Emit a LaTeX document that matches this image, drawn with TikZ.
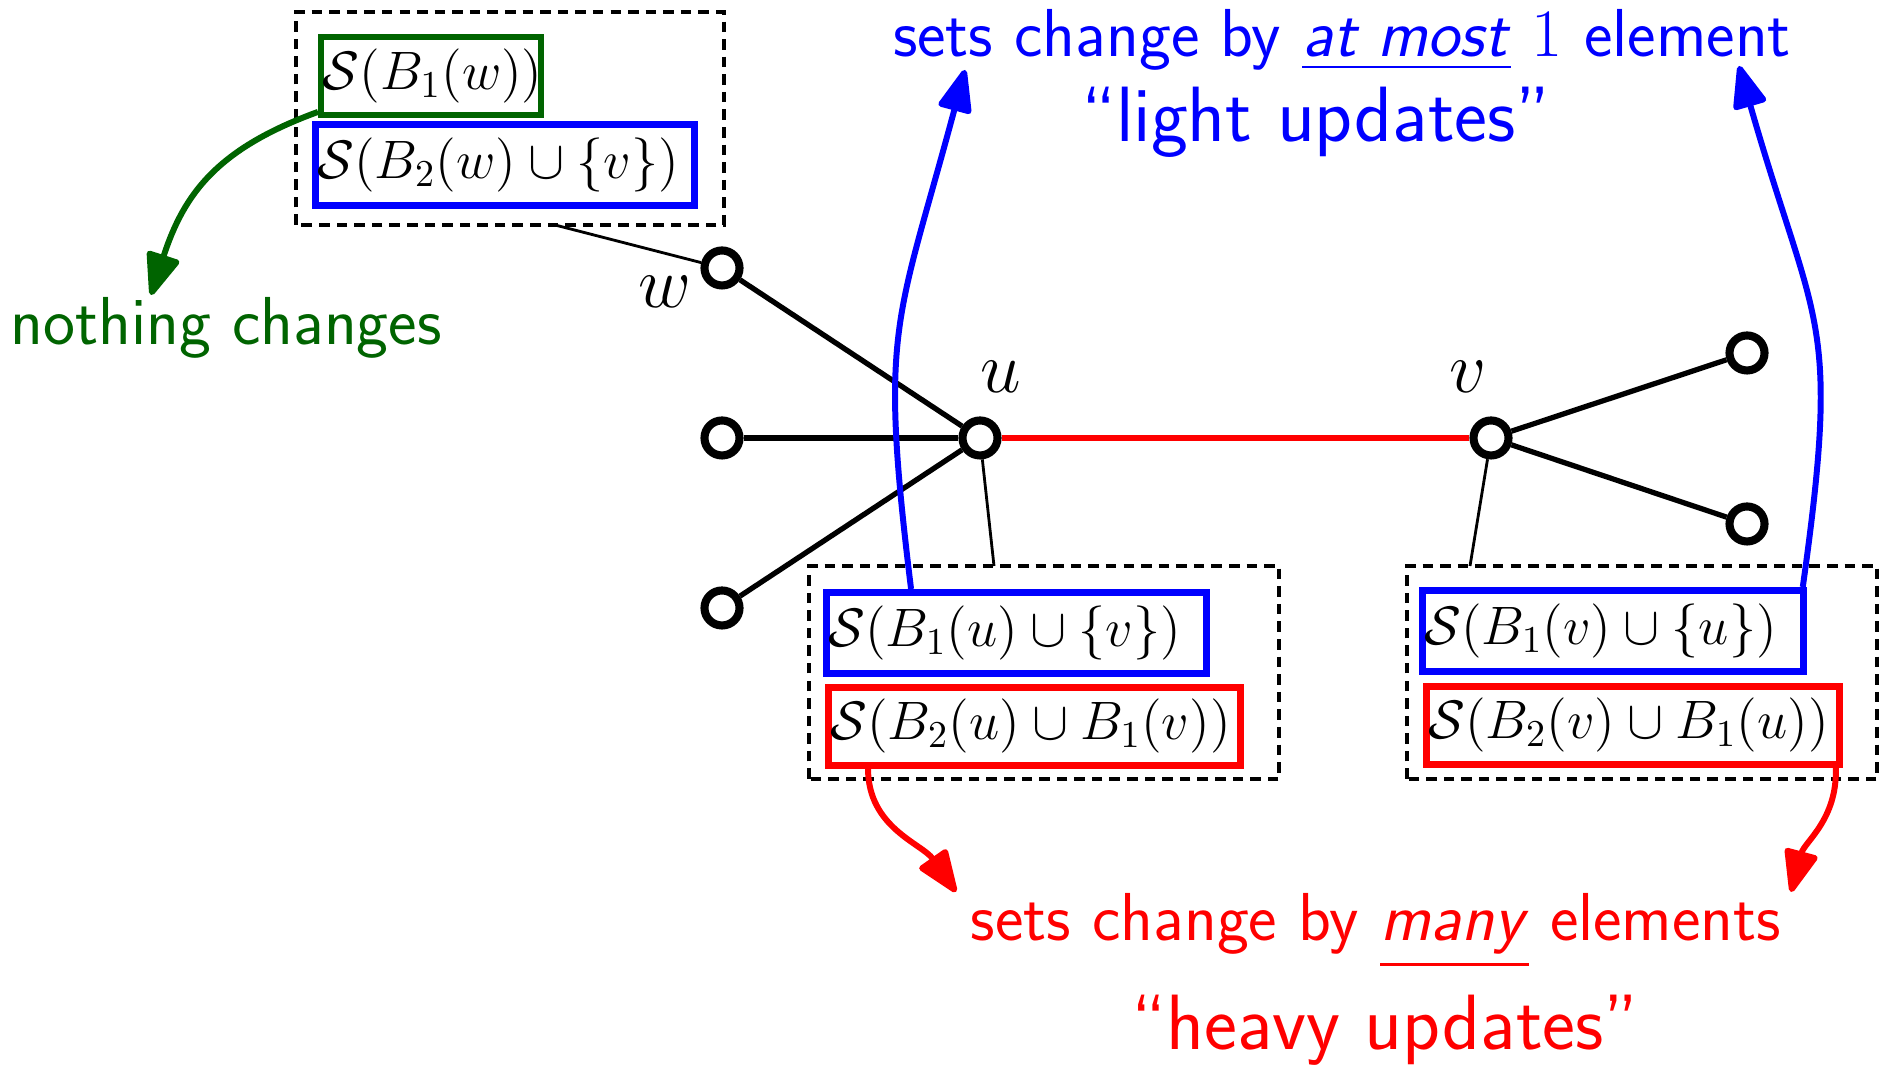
\RequirePackage{fix-cm}
\documentclass[tikz,border=0pt]{standalone}
\usepackage{amsmath,amssymb}
\usetikzlibrary{arrows.meta}
\definecolor{darkgreen}{RGB}{0,100,0}
\tikzset{
  vert/.style={circle, draw, fill=white, line width=2.3pt, inner sep=0pt, minimum size=0.35cm},
  graphedge/.style={line width=1.5pt},
  link/.style={line width=0.8pt},
  setgroup/.style={draw, dash pattern=on 3pt off 2pt, line width=1pt},
  setbox/.style={draw, fill=white, line width=2pt, anchor=north west, inner xsep=0.5pt,
    align=left, text width=#1, font=\fontsize{15.4}{18}\selectfont},
  bluebox/.style={setbox=#1, draw=blue, minimum height=0.81cm},
  redbox/.style={setbox=#1, draw=red, minimum height=0.76cm},
  greenbox/.style={setbox=#1, draw=darkgreen, line width=1.8pt, minimum height=0.75cm},
  vlabel/.style={font=\fontsize{20.7}{24}\selectfont},
  remark/.style={font=\sffamily\fontsize{19.3}{23}\selectfont, anchor=base},
  bigremark/.style={font=\sffamily\fontsize{22.3}{27}\selectfont, anchor=base},
  arrow/.style={-{Triangle[length=13.5pt,width=10pt,round]}, line width=1.7pt},
}

\begin{document}
\begin{tikzpicture}[x=0.01cm,y=0.01cm]
  \useasboundingbox (0,0) rectangle (1885,1065);

  % dashed groups
  \draw[setgroup] (296,840) rectangle (724,1053);
  \draw[setgroup] (809,286) rectangle (1279,499);
  \draw[setgroup] (1407,286) rectangle (1877,499);

  % graph
  \node[vert] (u) at (980,627) {};
  \node[vert] (v) at (1491,627) {};
  \node[vert] (w) at (722,797) {};
  \foreach \n/\y in {la/627,lb/457}{
    \node[vert] (\n) at (722,\y) {};
  }
  \foreach \n/\y in {ra/712,rb/541}{
    \node[vert] (\n) at (1747,\y) {};
  }
  \foreach \n in {w,la,lb}{
    \draw[graphedge] (\n) -- (u);
  }
  \foreach \n in {ra,rb}{
    \draw[graphedge] (v) -- (\n);
  }
  \draw[graphedge, red] (u) -- (v);

  \node[vlabel] (wlab) at (665,773) {$w$};
  \node[vlabel] (ulab) at (1001,688) {$u$};
  \node[vlabel] (vlab) at (1468,688) {$v$};

  % links to the groups
  \coordinate (wlink) at (555,840);
  \coordinate (ulink) at (994,499);
  \coordinate (vlink) at (1470,499);
  \draw[link] (wlink) -- (w);
  \draw[link] (u) -- (ulink);
  \draw[link] (v) -- (vlink);

  % sets
  \node[greenbox=2.16cm] (gw) at (318,1031) {$\mathcal{S}(B_1(w))$};
  \node[bluebox=3.75cm] (bw) at (312,944) {$\mathcal{S}(B_2(w)\cup\{v\})$};
  \node[bluebox=3.76cm] (bu) at (823,476) {$\mathcal{S}(B_1(u)\cup\{v\})$};
  \node[redbox=4.08cm] (ru) at (825,381) {$\mathcal{S}(B_2(u)\cup B_1(v))$};
  \node[bluebox=3.77cm] (bv) at (1419,478) {$\mathcal{S}(B_1(v)\cup\{u\})$};
  \node[redbox=4.09cm] (rv) at (1423,382) {$\mathcal{S}(B_2(v)\cup B_1(u))$};

  % remarks
  \node[remark, text=darkgreen, anchor=base west] (nothing) at (-2,720) {nothing changes};
  \node[remark, text=blue] (light) at (1342,1008) {sets change by \underline{\textsl{at most}} $1$ element};
  \node[bigremark, text=blue] (lightq) at (1316,923) {``light updates''};
  \node[remark, text=red] (heavy) at (1376,124) {sets change by \underline{\textsl{many}} elements};
  \node[bigremark, text=red] (heavyq) at (1385,15) {``heavy updates''};

  % arrows
  \coordinate (gtip) at (151,770);
  \coordinate (butip) at (965,995);
  \coordinate (bvtip) at (1739,999);
  \coordinate (rutip) at (956,173);
  \coordinate (rvtip) at (1791,173);
  \draw[arrow, darkgreen] ([yshift=0.06cm]gw.south west) to[out=200, in=72, looseness=1.1] (gtip);
  \draw[arrow, blue] ([xshift=0.88cm]bu.north west) to[out=97, in=-105, looseness=1.3] (butip);
  \draw[arrow, blue] ([xshift=-0.04cm]bv.north east) to[out=82, in=-74, looseness=1.35] (bvtip);
  \draw[arrow, red] ([xshift=0.43cm]ru.south west) to[out=-90, in=125] (rutip);
  \draw[arrow, red] ([xshift=-0.07cm]rv.south east) to[out=-88, in=75] (rvtip);
\end{tikzpicture}
\end{document}
